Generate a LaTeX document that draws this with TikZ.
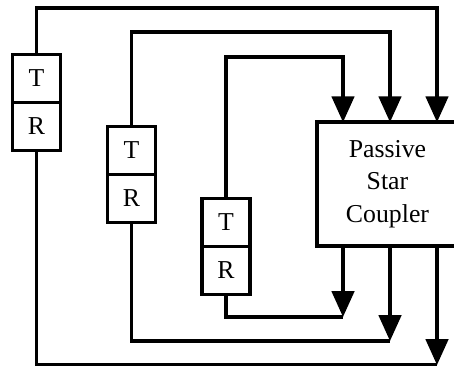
\documentclass[tikz,border=0pt]{standalone}
\usepackage{fontspec}
\setmainfont{Liberation Serif}
\usetikzlibrary{arrows.meta}
\begin{document}
\begin{tikzpicture}[x=3mm, y=3mm, line width=3pt,
  >={Triangle[width=19pt,length=22pt]},
  unit/.style={draw, rectangle, minimum width=1.45cm, minimum height=1.44cm, inner sep=0pt, font=\fontsize{22}{26}\selectfont}]
\useasboundingbox (0,0) rectangle (45.4,-36.6);

\node[unit] (t1) at (3.65,-7.85) {T};
\node[unit] (r1) at (3.65,-12.65) {R};

\node[unit] (t2) at (13.15,-15.05) {T};
\node[unit] (r2) at (13.15,-19.85) {R};

\node[unit] (t3) at (22.6,-22.25) {T};
\node[unit] (r3) at (22.6,-27.05) {R};

% coupler runs off the right edge, so only three sides
\node[rectangle, minimum width=4.11cm, minimum height=3.6cm, align=center, font=\fontsize{22}{27.5}\selectfont] (psc) at (38.75,-18.4) {Passive\\Star\\Coupler};
\draw (psc.north east) -- (psc.north west) -- (psc.south west) -- (psc.south east);

\coordinate (top1) at (43.7,-0.8);
\coordinate (top2) at (39.0,-3.2);
\coordinate (top3) at (34.3,-5.7);
\coordinate (bot3) at (34.3,-31.7);
\coordinate (bot2) at (39.0,-34.1);
\coordinate (bot1) at (43.7,-36.5);

\draw[->] (t1) -- (t1 |- top1) -- (top1) -- (top1 |- psc.north);
\draw[->] (t2) -- (t2 |- top2) -- (top2) -- (top2 |- psc.north);
\draw[->] (t3) -- (t3 |- top3) -- (top3) -- (top3 |- psc.north);

\draw[->] (bot3 |- psc.south) -- (bot3);
\draw[->] (bot2 |- psc.south) -- (bot2);
\draw[->] (bot1 |- psc.south) -- (bot1);

\draw (r3) -- (r3 |- bot3) -- (bot3);
\draw (r2) -- (r2 |- bot2) -- (bot2);
\draw (r1) -- (r1 |- bot1) -- (bot1);
\end{tikzpicture}
\end{document}
